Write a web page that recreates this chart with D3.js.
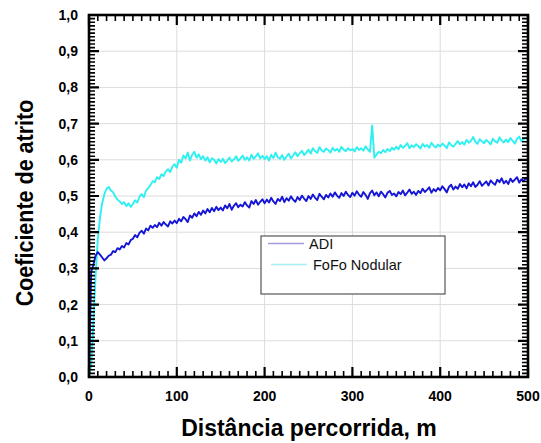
<!DOCTYPE html>
<html>
<head>
<meta charset="utf-8">
<script src="https://cdn.jsdelivr.net/npm/d3@7"></script>
<style>
  body { margin: 0; background: #fff; }
  svg { display: block; font-family: Arial, "Liberation Sans", sans-serif; }
</style>
</head>
<body>
<div id="chart"></div>
<script>
// distance samples (m)
const distancia = [
  0, 2.5, 5, 7.5, 10, 12.5, 15, 17.5, 20, 22.5,
  25, 27.5, 30, 32.5, 35, 37.5, 40, 42.5, 45, 47.5,
  50, 52.5, 55, 57.5, 60, 62.5, 65, 67.5, 70, 72.5,
  75, 77.5, 80, 82.5, 85, 87.5, 90, 92.5, 95, 97.5,
  100, 102.5, 105, 107.5, 110, 112.5, 115, 117.5, 120, 122.5,
  125, 127.5, 130, 132.5, 135, 137.5, 140, 142.5, 145, 147.5,
  150, 152.5, 155, 157.5, 160, 162.5, 165, 167.5, 170, 172.5,
  175, 177.5, 180, 182.5, 185, 187.5, 190, 192.5, 195, 197.5,
  200, 202.5, 205, 207.5, 210, 212.5, 215, 217.5, 220, 222.5,
  225, 227.5, 230, 232.5, 235, 237.5, 240, 242.5, 245, 247.5,
  250, 252.5, 255, 257.5, 260, 262.5, 265, 267.5, 270, 272.5,
  275, 277.5, 280, 282.5, 285, 287.5, 290, 292.5, 295, 297.5,
  300, 302.5, 305, 307.5, 310, 312.5, 315, 317.5, 320, 322.5,
  325, 327.5, 330, 332.5, 335, 337.5, 340, 342.5, 345, 347.5,
  350, 352.5, 355, 357.5, 360, 362.5, 365, 367.5, 370, 372.5,
  375, 377.5, 380, 382.5, 385, 387.5, 390, 392.5, 395, 397.5,
  400, 402.5, 405, 407.5, 410, 412.5, 415, 417.5, 420, 422.5,
  425, 427.5, 430, 432.5, 435, 437.5, 440, 442.5, 445, 447.5,
  450, 452.5, 455, 457.5, 460, 462.5, 465, 467.5, 470, 472.5,
  475, 477.5, 480, 482.5, 485, 487.5, 490, 492.5, 495, 497.5,
  500
];

const adi = [
  0.00, 0.29, 0.31, 0.335, 0.345, 0.338, 0.33, 0.322, 0.328, 0.335,
  0.338, 0.348, 0.345, 0.356, 0.352, 0.362, 0.358, 0.37, 0.366, 0.378,
  0.382, 0.392, 0.386, 0.398, 0.404, 0.396, 0.41, 0.405, 0.418, 0.412,
  0.42, 0.414, 0.426, 0.418, 0.428, 0.421, 0.416, 0.43, 0.424, 0.432,
  0.425, 0.437, 0.43, 0.442, 0.436, 0.428, 0.446, 0.44, 0.452, 0.444,
  0.456, 0.448, 0.46, 0.452, 0.464, 0.455, 0.467, 0.458, 0.47, 0.461,
  0.468, 0.46, 0.474, 0.466, 0.478, 0.462, 0.473, 0.48, 0.469, 0.476,
  0.471, 0.483, 0.474, 0.468, 0.486, 0.478, 0.489, 0.476, 0.484, 0.491,
  0.48, 0.49, 0.482, 0.495, 0.485, 0.478, 0.492, 0.486, 0.498, 0.483,
  0.494, 0.487, 0.499, 0.49, 0.484, 0.497, 0.489, 0.501, 0.493, 0.486,
  0.5, 0.492, 0.504, 0.495, 0.489, 0.506, 0.498, 0.491, 0.503, 0.496,
  0.507, 0.498, 0.51, 0.501, 0.495, 0.508, 0.5, 0.512, 0.503, 0.497,
  0.509, 0.501, 0.513, 0.504, 0.498, 0.511, 0.503, 0.492, 0.508, 0.515,
  0.502, 0.51, 0.499, 0.512, 0.505, 0.496, 0.509, 0.514, 0.503, 0.507,
  0.499, 0.511, 0.505, 0.515, 0.502, 0.509, 0.518, 0.506, 0.512, 0.503,
  0.514, 0.508, 0.52, 0.511, 0.517, 0.524, 0.509, 0.519, 0.513, 0.522,
  0.516, 0.527, 0.519, 0.51, 0.525, 0.531, 0.518, 0.526, 0.52, 0.533,
  0.524, 0.532, 0.521, 0.535, 0.527, 0.538, 0.525, 0.531, 0.541, 0.528,
  0.534, 0.54, 0.529, 0.543, 0.536, 0.531, 0.545, 0.538, 0.549, 0.535,
  0.542, 0.533, 0.548, 0.539, 0.545, 0.552, 0.537, 0.546, 0.541, 0.55,
  0.544
];

const fofo = [
  0.0, 0.03, 0.15, 0.28, 0.38, 0.44, 0.48, 0.505, 0.52, 0.525,
  0.515, 0.51, 0.498, 0.49, 0.485, 0.478, 0.483, 0.472, 0.48, 0.47,
  0.478, 0.488, 0.482, 0.498, 0.505, 0.497, 0.515, 0.522, 0.53, 0.541,
  0.538, 0.552, 0.547, 0.56, 0.555, 0.568, 0.574, 0.566, 0.582, 0.588,
  0.578, 0.6, 0.592, 0.612, 0.604, 0.62, 0.598, 0.614, 0.622, 0.606,
  0.615, 0.602, 0.61, 0.598, 0.607, 0.593, 0.604, 0.6, 0.59, 0.602,
  0.594, 0.603, 0.591, 0.598, 0.606, 0.595, 0.601, 0.61, 0.597, 0.604,
  0.612, 0.6, 0.607, 0.598, 0.614, 0.603, 0.609, 0.618, 0.604, 0.611,
  0.602, 0.61, 0.598, 0.614, 0.605, 0.62, 0.607, 0.603, 0.613, 0.6,
  0.609, 0.617, 0.604, 0.612, 0.621, 0.61, 0.618, 0.625, 0.613, 0.62,
  0.628, 0.617, 0.632, 0.624, 0.619, 0.635, 0.626, 0.622, 0.631, 0.627,
  0.62, 0.633, 0.625, 0.63, 0.622, 0.636, 0.628, 0.624, 0.632, 0.626,
  0.63, 0.623, 0.635, 0.627, 0.632, 0.625, 0.637, 0.629, 0.622, 0.695,
  0.606, 0.615, 0.622, 0.618, 0.627, 0.621, 0.63, 0.624, 0.633, 0.628,
  0.636, 0.629, 0.641, 0.633, 0.638, 0.646, 0.632, 0.64, 0.635, 0.643,
  0.638, 0.631, 0.644, 0.636, 0.641, 0.633, 0.647, 0.639, 0.634, 0.642,
  0.637, 0.645, 0.639, 0.632, 0.648, 0.641, 0.636, 0.644, 0.652, 0.643,
  0.649, 0.642, 0.655, 0.647, 0.652, 0.663, 0.65, 0.644, 0.657, 0.651,
  0.646, 0.655, 0.649, 0.643, 0.658, 0.651, 0.647, 0.662, 0.653, 0.648,
  0.656, 0.649, 0.66, 0.652, 0.645, 0.658, 0.664, 0.651, 0.657, 0.661,
  0.655
];

const series = [
  { name: "ADI", values: adi, color: "#1515d6", legendColor: "#a29ddc" },
  { name: "FoFo Nodular", values: fofo, color: "#2ff0f0", legendColor: "#a6eef0" }
];

const xTicks = [0, 100, 200, 300, 400, 500];
const yTicks = [0, 0.1, 0.2, 0.3, 0.4, 0.5, 0.6, 0.7, 0.8, 0.9, 1.0];

const width = 541, height = 443;
const margin = { top: 15, right: 13, bottom: 66, left: 89 };
const iw = width - margin.left - margin.right;
const ih = height - margin.top - margin.bottom;

const svg = d3.select("#chart").append("svg")
  .attr("width", width).attr("height", height);

const x = d3.scaleLinear().domain([0, 500]).range([margin.left, margin.left + iw]);
const y = d3.scaleLinear().domain([0, 1]).range([margin.top + ih, margin.top]);
const x0 = margin.left, x1 = margin.left + iw, y0 = margin.top + ih, y1 = margin.top;

// grid
svg.append("g").selectAll("line")
  .data(xTicks.slice(1, -1)).join("line")
  .attr("x1", d => x(d)).attr("x2", d => x(d))
  .attr("y1", y1).attr("y2", y0)
  .attr("stroke", "#dcdcdc").attr("stroke-width", 1);
svg.append("g").selectAll("line")
  .data(yTicks.slice(1, -1)).join("line")
  .attr("y1", d => y(d)).attr("y2", d => y(d))
  .attr("x1", x0).attr("x2", x1)
  .attr("stroke", "#dcdcdc").attr("stroke-width", 1);

// series
const line = d3.line()
  .x((d, i) => x(distancia[i]))
  .y(d => y(d));

series.slice().reverse().forEach(s => {
  svg.append("path")
    .datum(s.values)
    .attr("d", line)
    .attr("fill", "none")
    .attr("stroke", s.color)
    .attr("stroke-width", 1.9)
    .attr("stroke-linejoin", "round");
});

// frame
svg.append("rect")
  .attr("x", x0).attr("y", y1).attr("width", iw).attr("height", ih)
  .attr("fill", "none").attr("stroke", "#000").attr("stroke-width", 2.6);

// inward ticks on all four sides: minor and major as two paths
const xMinor = x.ticks(50);
const yMinor = y.ticks(100);
const near = (arr, d) => arr.some(t => Math.abs(t - d) < 1e-6);

function tickPathFor(major, len) {
  const p = d3.path();
  xMinor.filter(d => near(xTicks, d) === major).forEach(d => {
    p.moveTo(x(d), y0); p.lineTo(x(d), y0 - len);
    p.moveTo(x(d), y1); p.lineTo(x(d), y1 + len);
  });
  yMinor.filter(d => near(yTicks, d) === major).forEach(d => {
    p.moveTo(x0, y(d)); p.lineTo(x0 + len, y(d));
    p.moveTo(x1, y(d)); p.lineTo(x1 - len, y(d));
  });
  return p.toString();
}
svg.append("path")
  .attr("d", tickPathFor(false, 6))
  .attr("fill", "none").attr("stroke", "#000").attr("stroke-width", 1.6);
svg.append("path")
  .attr("d", tickPathFor(true, 10))
  .attr("fill", "none").attr("stroke", "#000").attr("stroke-width", 2.2);

// tick labels
const fmt = d => d3.format(".1f")(d).replace(".", ",");
svg.append("g").selectAll("text")
  .data(yTicks).join("text")
  .attr("x", x0 - 11).attr("y", d => y(d)).attr("dy", "0.36em")
  .attr("text-anchor", "end")
  .attr("font-size", 14).attr("font-weight", "bold")
  .text(fmt);
svg.append("g").selectAll("text")
  .data(xTicks).join("text")
  .attr("x", d => x(d)).attr("y", y0 + 24)
  .attr("text-anchor", "middle")
  .attr("font-size", 14).attr("font-weight", "bold")
  .text(d => d);

// axis titles
svg.append("text")
  .attr("x", 309).attr("y", 436)
  .attr("text-anchor", "middle")
  .attr("font-size", 23).attr("font-weight", "bold")
  .text("Distância percorrida, m");
svg.append("text")
  .attr("transform", "translate(33,203) scale(1.15,1) rotate(-90)")
  .attr("text-anchor", "middle")
  .attr("font-size", 21.5).attr("font-weight", "bold")
  .text("Coeficiente de atrito");

// legend
const lg = svg.append("g").attr("transform", "translate(261,236)");
lg.append("rect")
  .attr("width", 184).attr("height", 58)
  .attr("fill", "#fff").attr("stroke", "#555").attr("stroke-width", 1.2);
series.forEach((s, i) => {
  const yy = 7.5 + i * 21;
  lg.append("line")
    .attr("x1", 7 + i * 3).attr("x2", 43 + i * 3).attr("y1", yy).attr("y2", yy)
    .attr("stroke", s.legendColor).attr("stroke-width", 1.4);
  lg.append("text")
    .attr("x", 48 + i * 4).attr("y", yy).attr("dy", "0.36em")
    .attr("font-size", 14.5)
    .attr("fill", "#111")
    .text(s.name);
});
</script>
</body>
</html>
